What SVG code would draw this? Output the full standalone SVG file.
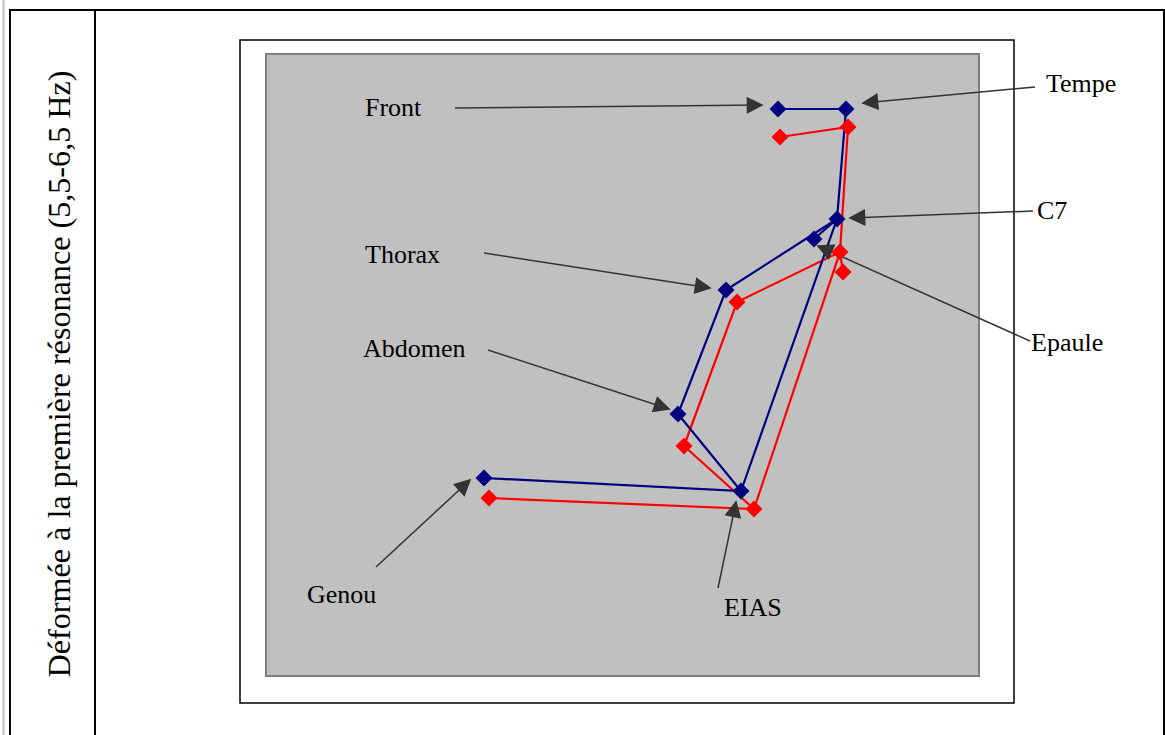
<svg xmlns="http://www.w3.org/2000/svg" width="1165" height="735" viewBox="0 0 1165 735">
<defs>
<style>
.lbl{font-family:"Liberation Serif","Times New Roman",serif;font-size:26px;fill:#000}
.ar{stroke:#333;stroke-width:1.5;fill:none;marker-end:url(#ah)}
.b{stroke:#000080;stroke-width:2.2;fill:none}
.r{stroke:#ff0000;stroke-width:2.2;fill:none}
.bd{fill:#000080}
.rd{fill:#ff0000}
</style>
<marker id="ah" viewBox="0 0 10 10" refX="9" refY="5" markerWidth="22" markerHeight="17" markerUnits="userSpaceOnUse" orient="auto">
<path d="M0,0 L10,5 L0,10 z" fill="#333"/>
</marker>
<path id="dm" d="M0,-8.5 L8.5,0 L0,8.5 L-8.5,0 z"/>
</defs>
<rect width="1165" height="735" fill="#fff"/>
<line x1="3.5" y1="0" x2="3.5" y2="735" stroke="#c0c0c0" stroke-width="2"/>
<g id="table" stroke="#000" stroke-width="2" fill="none">
<line x1="9" y1="10" x2="1165" y2="10"/>
<line x1="10" y1="10" x2="10" y2="735"/>
<line x1="95" y1="10" x2="95" y2="735"/>
<line x1="1164" y1="10" x2="1164" y2="735"/>
</g>
<text class="lbl" transform="translate(70,374) rotate(-90)" text-anchor="middle" style="font-size:31px" textLength="607" lengthAdjust="spacingAndGlyphs">Déformée à la première  résonance (5,5-6,5 Hz)</text>
<rect id="frame" x="240" y="40" width="774" height="663" fill="#fff" stroke="#000" stroke-width="1.5"/>
<rect id="plot" x="266" y="54" width="713" height="622" fill="#c0c0c0" stroke="#808080" stroke-width="2"/>
<g id="connectors">
<polyline class="r" points="780,137 848,127 840,252 737,302 684,446 754,509 489,498"/>
<polyline class="r" points="840,252 754,509"/>
<polyline class="r" points="840,252 843,272"/>
<polyline class="b" points="778,109 846,109 837,219 726,290 678,414 741,491 484,478"/>
<polyline class="b" points="837,219 741,491"/>
<polyline class="b" points="837,219 814,239"/>
<line class="ar" x1="455" y1="108" x2="762" y2="105"/>
<line class="ar" x1="1035" y1="87" x2="863" y2="103"/>
<line class="ar" x1="1033" y1="211" x2="850" y2="218"/>
<line class="ar" x1="484" y1="253" x2="710" y2="288"/>
<line class="ar" x1="1030" y1="341" x2="818" y2="246"/>
<line class="ar" x1="488" y1="350" x2="669" y2="409"/>
<line class="ar" x1="376" y1="567" x2="470" y2="480"/>
<line class="ar" x1="718" y1="588" x2="736" y2="502"/>
</g>
<g id="red-points" class="rd">
<use href="#dm" x="780" y="137"/>
<use href="#dm" x="848" y="127"/>
<use href="#dm" x="840" y="252"/>
<use href="#dm" x="843" y="272"/>
<use href="#dm" x="737" y="302"/>
<use href="#dm" x="684" y="446"/>
<use href="#dm" x="754" y="509"/>
<use href="#dm" x="489" y="498"/>
</g>
<g id="blue-points" class="bd">
<use href="#dm" x="778" y="109"/>
<use href="#dm" x="846" y="109"/>
<use href="#dm" x="837" y="219"/>
<use href="#dm" x="814" y="239"/>
<use href="#dm" x="726" y="290"/>
<use href="#dm" x="678" y="414"/>
<use href="#dm" x="741" y="491"/>
<use href="#dm" x="484" y="478"/>
</g>
<g id="n-front"><text class="lbl" x="365" y="116">Front</text></g>
<g id="n-tempe"><text class="lbl" x="1046" y="92">Tempe</text></g>
<g id="n-c7"><text class="lbl" x="1037" y="219">C7</text></g>
<g id="n-thorax"><text class="lbl" x="365" y="263">Thorax</text></g>
<g id="n-epaule"><text class="lbl" x="1031" y="351">Epaule</text></g>
<g id="n-abdomen"><text class="lbl" x="363" y="357">Abdomen</text></g>
<g id="n-genou"><text class="lbl" x="307" y="603">Genou</text></g>
<g id="n-eias"><text class="lbl" x="724" y="616">EIAS</text></g>
</svg>
